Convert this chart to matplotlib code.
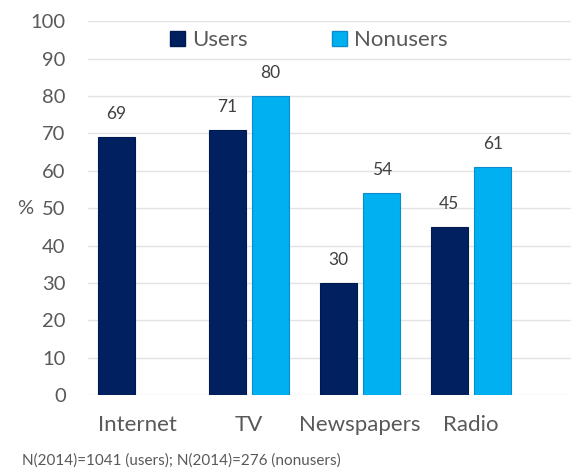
import matplotlib.pyplot as plt
import numpy as np
from matplotlib.patches import Patch

plt.rcParams['font.family'] = ['Lato', 'DejaVu Sans']

categories = ['Internet', 'TV', 'Newspapers', 'Radio']
users = [69, 71, 30, 45]
nonusers = [None, 80, 54, 61]
yticks = [0, 10, 20, 30, 40, 50, 60, 70, 80, 90, 100]
note = 'N(2014)=1041 (users); N(2014)=276 (nonusers)'

grey = '#595959'
fig = plt.figure(figsize=(5.71, 4.71), dpi=100)
ax = fig.add_axes([0.154, 0.161, 0.846, 0.794])

x = np.arange(len(categories))
w = 0.33
off = 0.195
for i, v in enumerate(users):
    ax.bar(x[i] - off, v, w, color='#002060', edgecolor='#001a50', linewidth=0.8, zorder=3)
    ax.text(x[i] - off, v + 4, f'{v}', ha='center', va='bottom', fontsize=12.5, color='#404040')
for i, v in enumerate(nonusers):
    if v is None:
        continue
    ax.bar(x[i] + off, v, w, color='#00b0f0', edgecolor='#0a8ccc', linewidth=0.8, zorder=3)
    ax.text(x[i] + off, v + 4, f'{v}', ha='center', va='bottom', fontsize=12.5, color='#404040')

ax.set_xlim(-0.45, 3.9)
ax.set_ylim(0, 100)
ax.set_yticks(yticks)
ax.set_xticks(x)
ax.set_xticklabels(categories)
ax.tick_params(axis='both', length=0, colors=grey)
ax.tick_params(axis='y', pad=16, labelsize=14.5)
ax.tick_params(axis='x', pad=14, labelsize=16)
ax.grid(axis='y', color='#e3e3e3', linewidth=1, zorder=0)
for s in ax.spines.values():
    s.set_visible(False)

ax.text(-0.13, 50, '%', ha='center', va='center', fontsize=14.5, color=grey,
        transform=ax.get_yaxis_transform())

# legend: two coloured squares with their labels, inside the plot
handles = [Patch(facecolor='#002060', edgecolor='#001a50'),
           Patch(facecolor='#00b0f0', edgecolor='#0a8ccc')]
leg = ax.legend(handles, ['Users', 'Nonusers'], loc='upper center',
                bbox_to_anchor=(0.457, 1.0), ncol=2, frameon=False,
                fontsize=16, handlelength=0.7, handleheight=0.7,
                handletextpad=0.3, columnspacing=3.8, borderaxespad=0)
for t in leg.get_texts():
    t.set_color(grey)

fig.text(22 / 571, 1 - 461 / 471, note, fontsize=11, color=grey, ha='left', va='center')

fig.savefig('out.png', dpi=100)
